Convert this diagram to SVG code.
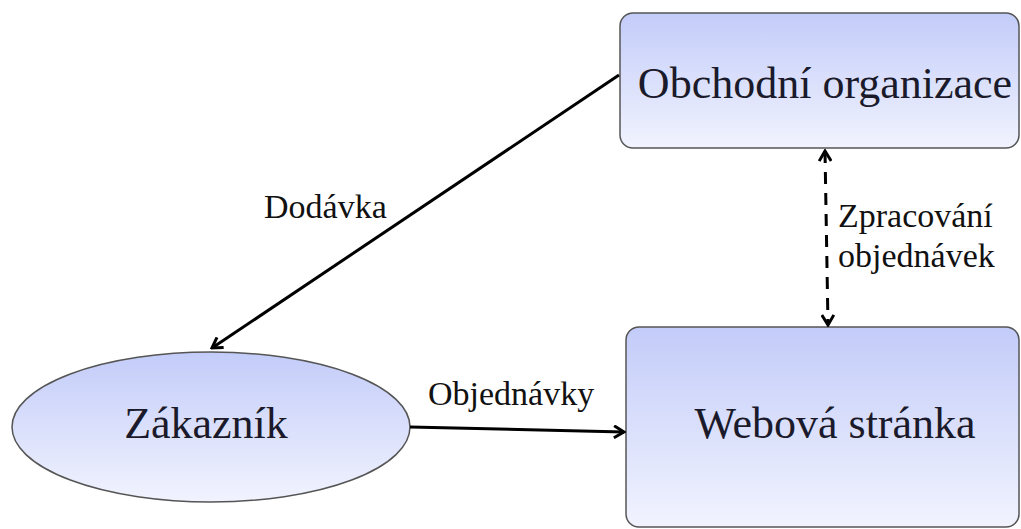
<svg xmlns="http://www.w3.org/2000/svg" width="1021" height="529" viewBox="0 0 1021 529">
<defs>
<linearGradient id="g" x1="0" y1="0" x2="0" y2="1">
<stop offset="0" stop-color="#c3ccf9"/>
<stop offset="1" stop-color="#f1f3fe"/>
</linearGradient>
<marker id="arr" viewBox="0 0 14 14" refX="12" refY="7" markerWidth="14" markerHeight="14" markerUnits="userSpaceOnUse" orient="auto-start-reverse">
<path d="M2,1 L12,7 L2,13" fill="none" stroke="#000" stroke-width="3"/>
</marker>
</defs>
<style>
.node{fill:url(#g);stroke:#555;stroke-width:1.5}
text{font-family:'Liberation Serif','DejaVu Serif','Times New Roman',serif}
.t{fill:#1a1a2a;text-anchor:middle;font-size:44px}
.lbl{font-size:34px;fill:#111}
.c{fill:none;stroke:#000;stroke-width:3}
</style>
<rect width="1021" height="529" fill="#fff"/>
<g id="obchodni">
<rect class="node" x="620" y="13" width="399" height="135" rx="13"/>
<text class="t" x="825" y="98">Obchodní organizace</text>
</g>
<g id="webova">
<rect class="node" x="626" y="327" width="393" height="200" rx="13"/>
<text class="t" x="835" y="438">Webová stránka</text>
</g>
<g id="zakaznik">
<ellipse class="node" cx="211" cy="427" rx="199" ry="75"/>
<text class="t" x="206" y="438">Zákazník</text>
</g>
<g id="connectors">
<line class="c" x1="619" y1="75" x2="212" y2="348" marker-end="url(#arr)"/>
<text class="lbl" x="264" y="218">Dodávka</text>
<line class="c" x1="410" y1="427" x2="624" y2="432" marker-end="url(#arr)"/>
<text class="lbl" x="428" y="405">Objednávky</text>
<line class="c" x1="825" y1="151" x2="828" y2="325" stroke-dasharray="12 9" marker-start="url(#arr)" marker-end="url(#arr)"/>
<text class="lbl" x="838" y="227">Zpracování</text>
<text class="lbl" x="838" y="267">objednávek</text>
</g>
</svg>
